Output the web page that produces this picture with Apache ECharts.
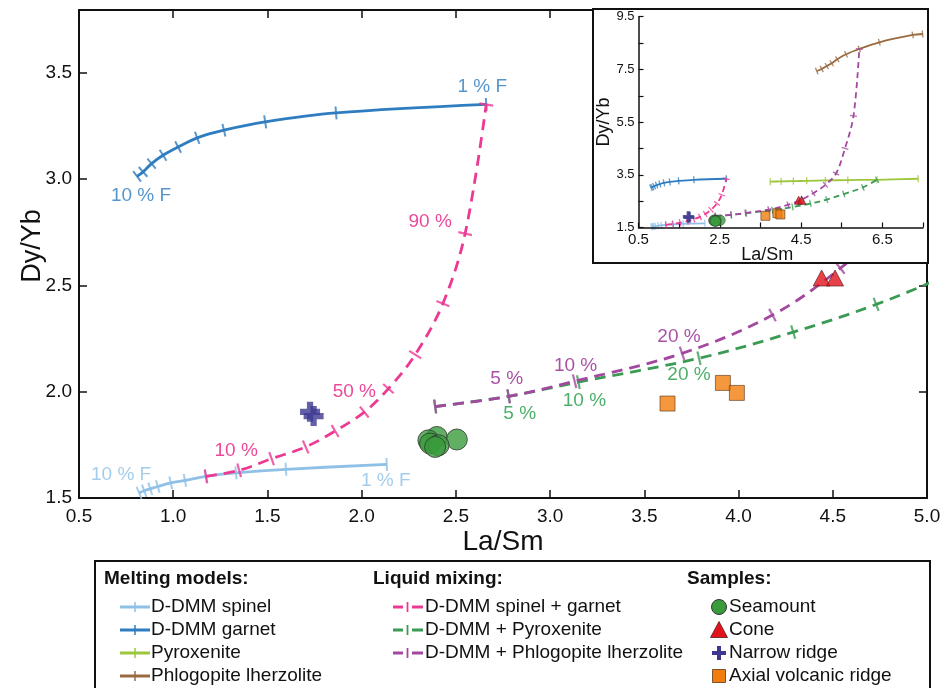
<!DOCTYPE html>
<html>
<head>
<meta charset="utf-8">
<script src="https://cdn.jsdelivr.net/npm/echarts@6/dist/echarts.min.js"></script>
<style>
  html, body { margin: 0; padding: 0; background: #ffffff; }
  #chart { width: 950px; height: 688px; }
</style>
</head>
<body>
<div id="chart"></div>
<script>
// ---- Melting models (La/Sm, Dy/Yb), one point per melt-fraction step ----
const spinelX = [0.819, 0.846, 0.878, 0.918, 0.987, 1.062, 1.173, 1.333, 1.598, 2.133];
const spinelY = [1.524, 1.534, 1.543, 1.554, 1.571, 1.583, 1.602, 1.618, 1.635, 1.658];
const garnetX = [0.808, 0.840, 0.885, 0.946, 1.026, 1.127, 1.269, 1.488, 1.864, 2.661];
const garnetY = [3.012, 3.033, 3.072, 3.111, 3.150, 3.193, 3.229, 3.268, 3.310, 3.350];
const pyroxeniteX = [3.74, 4.01, 4.31, 4.64, 5.10, 5.65, 6.37, 7.38];
const pyroxeniteY = [3.24, 3.25, 3.26, 3.27, 3.285, 3.30, 3.31, 3.35];
const phlogopiteX = [4.885, 5.008, 5.131, 5.254, 5.392, 5.606, 5.933, 6.425, 7.247, 7.49];
const phlogopiteY = [7.439, 7.515, 7.629, 7.732, 7.883, 8.073, 8.274, 8.529, 8.806, 8.843];

// ---- Liquid mixing curves, one point per mixing proportion ----
const mixSpGtPct = [0, 10, 20, 30, 40, 50, 60, 70, 80, 90, 100];
const mixSpGtX = [1.174, 1.350, 1.522, 1.703, 1.859, 2.014, 2.142, 2.284, 2.431, 2.549, 2.661];
const mixSpGtY = [1.602, 1.630, 1.685, 1.740, 1.815, 1.904, 2.014, 2.174, 2.414, 2.743, 3.350];
const mixPxPct = [0, 5, 10, 20, 30, 40, 50, 60, 80, 100];
const mixPxX = [2.39, 2.78, 3.15, 3.79, 4.29, 4.73, 5.13, 5.55, 6.02, 6.37];
const mixPxY = [1.93, 1.978, 2.045, 2.157, 2.28, 2.41, 2.56, 2.77, 3.02, 3.31];
const mixPhlPct = [0, 5, 10, 20, 30, 40, 50, 60, 70, 80, 90, 100];
const mixPhlX = [2.39, 2.78, 3.13, 3.70, 4.18, 4.54, 4.80, 5.10, 5.36, 5.58, 5.79, 5.933];
const mixPhlY = [1.93, 1.978, 2.049, 2.18, 2.36, 2.58, 2.80, 3.12, 3.55, 4.50, 5.74, 8.274];

// ---- Samples ----
const seamountX = [2.399, 2.505, 2.354, 2.363, 2.408, 2.390];
const seamountY = [1.787, 1.775, 1.771, 1.756, 1.748, 1.740];
const coneX = [4.441, 4.512];
const coneY = [2.534, 2.534];
const narrowRidgeX = [1.726, 1.745];
const narrowRidgeY = [1.905, 1.885];
const axialRidgeX = [3.623, 3.917, 3.991];
const axialRidgeY = [1.944, 2.041, 1.994];

// ---- Axis ticks ----
const mainXTicks = [0.5, 1.0, 1.5, 2.0, 2.5, 3.0, 3.5, 4.0, 4.5, 5.0];
const mainYTicks = [1.5, 2.0, 2.5, 3.0, 3.5];
const insetXTicks = [0.5, 2.5, 4.5, 6.5];
const insetYTicks = [1.5, 3.5, 5.5, 7.5, 9.5];

// ---- Legend texts ----
const meltingTitle = 'Melting models:';
const meltingNames = ['D-DMM spinel', 'D-DMM garnet', 'Pyroxenite', 'Phlogopite lherzolite'];
const mixingTitle = 'Liquid mixing:';
const mixingNames = ['D-DMM spinel + garnet', 'D-DMM + Pyroxenite', 'D-DMM + Phlogopite lherzolite'];
const samplesTitle = 'Samples:';
const sampleNames = ['Seamount', 'Cone', 'Narrow ridge', 'Axial volcanic ridge'];

const FONT = '"Liberation Sans", Arial, Helvetica, sans-serif';
const COL = {
  spinel: '#8fc1e7', garnet: '#2f7dc1', pyx: '#9dc63d', phl: '#9a6a40',
  pink: '#ec3a93', green: '#3b9b55', purple: '#a3489f',
  pinkText: '#e8197f', greenText: '#1f9a44', purpleText: '#93278f',
  garnetText: '#2b7bbf', spinelText: '#8dc0e6',
  seamount: '#3a9b3c', cone: '#e1131c', narrow: '#3c3890', axial: '#f27d0c'
};
const PLUS = 'path://M5.5,0H10.5V5.5H16V10.5H10.5V16H5.5V10.5H0V5.5H5.5Z';

const chart = echarts.init(document.getElementById('chart'), null, { renderer: 'canvas' });

function pairs(xs, ys) { return xs.map((x, i) => [x, ys[i]]); }
// grid 0 uses axes 0 (bottom/left), grid 1 (inset) uses axes 2
function ax(g) { return g === 0 ? 0 : 2; }

// pixel tangent angle at point i, used to turn each tick across its curve
function tangentDeg(g, xs, ys, i) {
  const a = Math.max(i - 1, 0), b = Math.min(i + 1, xs.length - 1);
  const f = { xAxisIndex: ax(g), yAxisIndex: ax(g) };
  const p = chart.convertToPixel(f, [xs[a], ys[a]]);
  const q = chart.convertToPixel(f, [xs[b], ys[b]]);
  if (!p || !q) return 0;
  return Math.atan2(-(q[1] - p[1]), q[0] - p[0]) * 180 / Math.PI;
}

function curve(g, xs, ys, color, o, withAngles) {
  const main = g === 0;
  const zl = main ? 0 : 1;
  const lineW = main ? 2.8 : 1.8;
  const dash = o.dashed ? (main ? [11, 7] : [6, 4]) : 'solid';
  const tick = main ? (o.dashed ? [2.2, 14] : [2, 13]) : [1.3, 7];
  return [
    {
      type: 'line', xAxisIndex: ax(g), yAxisIndex: ax(g), zlevel: zl, z: o.z,
      data: pairs(xs, ys), smooth: 0.35, showSymbol: false, silent: true,
      lineStyle: { color: color, width: lineW, type: dash, cap: 'butt' }
    },
    {
      type: 'scatter', xAxisIndex: ax(g), yAxisIndex: ax(g), zlevel: zl, z: o.z,
      symbol: 'rect', symbolSize: tick, silent: true,
      itemStyle: { color: color },
      data: xs.map((x, i) => ({ value: [x, ys[i]], symbolRotate: withAngles ? tangentDeg(g, xs, ys, i) : 0 }))
    }
  ];
}

function samples(g) {
  const main = g === 0;
  const zl = main ? 0 : 1;
  const z = 8;
  const s = main ? 1 : 0.5;
  const base = { type: 'scatter', xAxisIndex: ax(g), yAxisIndex: ax(g), zlevel: zl, z: z, silent: true };
  return [
    Object.assign({}, base, { symbol: 'circle', symbolSize: 21 * s,
      itemStyle: { color: COL.seamount, borderColor: '#333', borderWidth: main ? 1 : 0.6 }, data: pairs(seamountX, seamountY) }),
    Object.assign({}, base, { symbol: 'triangle', symbolSize: [17 * s, 16 * s],
      itemStyle: { color: COL.cone, borderColor: '#5a1a1a', borderWidth: 0.8 }, data: pairs(coneX, coneY) }),
    Object.assign({}, base, { symbol: PLUS, symbolSize: main ? 20 : 11,
      itemStyle: { color: COL.narrow }, data: pairs(narrowRidgeX, narrowRidgeY) }),
    Object.assign({}, base, { symbol: 'rect', symbolSize: main ? 15 : 9,
      itemStyle: { color: COL.axial, borderColor: '#5a3a1a', borderWidth: 0.8 }, data: pairs(axialRidgeX, axialRidgeY) })
  ];
}

// text labels placed beside chosen curve points
function curveLabels() {
  const items = [
    { xs: garnetX, ys: garnetY, i: 0, text: '10 % F', color: COL.garnetText, off: [4, 19] },
    { xs: garnetX, ys: garnetY, i: 9, text: '1 % F', color: COL.garnetText, off: [-4, -18] },
    { xs: spinelX, ys: spinelY, i: 0, text: '10 % F', color: COL.spinelText, off: [-18, -18] },
    { xs: spinelX, ys: spinelY, i: 9, text: '1 % F', color: COL.spinelText, off: [-1, 16] },
    { xs: mixSpGtX, ys: mixSpGtY, i: mixSpGtPct.indexOf(10), text: '10 %', color: COL.pinkText, off: [-3, -20] },
    { xs: mixSpGtX, ys: mixSpGtY, i: mixSpGtPct.indexOf(50), text: '50 %', color: COL.pinkText, off: [-10, -20] },
    { xs: mixSpGtX, ys: mixSpGtY, i: mixSpGtPct.indexOf(90), text: '90 %', color: COL.pinkText, off: [-35, -12] },
    { xs: mixPhlX, ys: mixPhlY, i: mixPhlPct.indexOf(5), text: '5 %', color: COL.purpleText, off: [-2, -18] },
    { xs: mixPhlX, ys: mixPhlY, i: mixPhlPct.indexOf(10), text: '10 %', color: COL.purpleText, off: [1, -15] },
    { xs: mixPhlX, ys: mixPhlY, i: mixPhlPct.indexOf(20), text: '20 %', color: COL.purpleText, off: [-3, -17] },
    { xs: mixPxX, ys: mixPxY, i: mixPxPct.indexOf(5), text: '5 %', color: COL.greenText, off: [11, 17] },
    { xs: mixPxX, ys: mixPxY, i: mixPxPct.indexOf(10), text: '10 %', color: COL.greenText, off: [6, 19] },
    { xs: mixPxX, ys: mixPxY, i: mixPxPct.indexOf(20), text: '20 %', color: COL.greenText, off: [-10, 17] }
  ];
  return {
    type: 'scatter', xAxisIndex: 0, yAxisIndex: 0, zlevel: 0, z: 9, silent: true,
    symbolSize: 1, itemStyle: { color: 'rgba(0,0,0,0)' },
    data: items.map(t => ({
      value: [t.xs[t.i], t.ys[t.i]],
      label: { show: true, position: 'inside', formatter: t.text, offset: t.off,
               color: t.color, fontSize: 19, fontFamily: FONT }
    }))
  };
}

function allSeries(withAngles) {
  const out = [];
  [0, 1].forEach(g => {
    out.push(...curve(g, spinelX, spinelY, COL.spinel, { z: 2 }, withAngles));
    out.push(...curve(g, garnetX, garnetY, COL.garnet, { z: 2 }, withAngles));
    out.push(...curve(g, pyroxeniteX, pyroxeniteY, COL.pyx, { z: 2 }, withAngles));
    if (g === 1) out.push(...curve(g, phlogopiteX, phlogopiteY, COL.phl, { z: 2 }, withAngles));
    out.push(...curve(g, mixSpGtX, mixSpGtY, COL.pink, { z: 3, dashed: true }, withAngles));
    out.push(...curve(g, mixPxX, mixPxY, COL.green, { z: 4, dashed: true }, withAngles));
    out.push(...curve(g, mixPhlX, mixPhlY, COL.purple, { z: 5, dashed: true }, withAngles));
    out.push(...samples(g));
  });
  out.push(curveLabels());
  return out;
}

function isTick(v, list) { return list.some(t => Math.abs(t - v) < 1e-6); }

function axisCommon(main) {
  return {
    type: 'value',
    nameMoveOverlap: false,
    axisLine: { show: true, onZero: false, lineStyle: { color: '#111', width: main ? 2 : 1.5 } },
    axisTick: { show: true, inside: true, length: main ? 8 : 5, lineStyle: { color: '#111', width: main ? 1.5 : 1.2 } },
    splitLine: { show: false },
    z: main ? 1 : 3
  };
}

function legendGraphics() {
  const els = [];
  const T = (x, y, text, bold) => ({
    type: 'text', x: x, y: y,
    style: { text: text, fill: '#111', font: (bold ? 'bold ' : '') + '19px ' + FONT, textVerticalAlign: 'middle' }
  });
  els.push({ type: 'rect', shape: { x: 95, y: 561, width: 835, height: 140 },
             style: { fill: '#fff', stroke: '#111', lineWidth: 2 } });
  const rows = [607, 630, 653, 676];
  els.push(T(104, 579, meltingTitle, true));
  els.push(T(373, 579, mixingTitle, true));
  els.push(T(687, 579, samplesTitle, true));
  const meltCols = [COL.spinel, COL.garnet, COL.pyx, COL.phl];
  meltingNames.forEach((n, i) => {
    const y = rows[i];
    els.push({ type: 'line', shape: { x1: 120, y1: y, x2: 150, y2: y }, style: { stroke: meltCols[i], lineWidth: 3 } });
    els.push({ type: 'line', shape: { x1: 135, y1: y - 5, x2: 135, y2: y + 5 }, style: { stroke: meltCols[i], lineWidth: 1.5 } });
    els.push(T(151, y, n, false));
  });
  const mixCols = [COL.pink, COL.green, COL.purple];
  mixingNames.forEach((n, i) => {
    const y = rows[i];
    els.push({ type: 'line', shape: { x1: 393, y1: y, x2: 403, y2: y }, style: { stroke: mixCols[i], lineWidth: 3 } });
    els.push({ type: 'line', shape: { x1: 407.5, y1: y - 5, x2: 407.5, y2: y + 5 }, style: { stroke: mixCols[i], lineWidth: 1.8 } });
    els.push({ type: 'line', shape: { x1: 412, y1: y, x2: 423, y2: y }, style: { stroke: mixCols[i], lineWidth: 3 } });
    els.push(T(425, y, n, false));
  });
  // sample markers
  const mx = 719;
  els.push({ type: 'circle', shape: { cx: mx, cy: rows[0], r: 7.5 }, style: { fill: COL.seamount, stroke: '#333', lineWidth: 1 } });
  els.push({ type: 'polygon', shape: { points: [[mx, rows[1] - 8.5], [mx - 8.5, rows[1] + 7.5], [mx + 8.5, rows[1] + 7.5]] },
             style: { fill: COL.cone, stroke: '#5a1a1a', lineWidth: 0.8 } });
  els.push({ type: 'polygon', shape: { points: [[mx - 2, rows[2] - 7], [mx + 2, rows[2] - 7], [mx + 2, rows[2] - 2], [mx + 7, rows[2] - 2],
             [mx + 7, rows[2] + 2], [mx + 2, rows[2] + 2], [mx + 2, rows[2] + 7], [mx - 2, rows[2] + 7], [mx - 2, rows[2] + 2], [mx - 7, rows[2] + 2],
             [mx - 7, rows[2] - 2], [mx - 2, rows[2] - 2]] }, style: { fill: COL.narrow } });
  els.push({ type: 'rect', shape: { x: mx - 6.5, y: rows[3] - 6.5, width: 13, height: 13 },
             style: { fill: COL.axial, stroke: '#5a3a1a', lineWidth: 0.8 } });
  sampleNames.forEach((n, i) => els.push(T(729, rows[i], n, false)));
  return els;
}

function buildOption(withAngles) {
  return {
    animation: false,
    backgroundColor: '#ffffff',
    textStyle: { fontFamily: FONT },
    grid: [
      { left: 79, right: 23, top: 10, bottom: 190, outerBoundsMode: 'none' },
      { left: 638.5, right: 27, top: 16.7, bottom: 460.5, outerBoundsMode: 'none' }
    ],
    xAxis: [
      Object.assign(axisCommon(true), {
        gridIndex: 0, position: 'bottom', min: 0.5, max: 5.0, interval: 0.5,
        axisLabel: { show: true, fontSize: 19, color: '#111', margin: 9, fontFamily: FONT,
                     formatter: v => isTick(v, mainXTicks) ? v.toFixed(1) : '' },
        name: 'La/Sm', nameLocation: 'middle', nameGap: 30,
        nameTextStyle: { fontSize: 28, color: '#111', fontFamily: FONT }
      }),
      Object.assign(axisCommon(true), {
        gridIndex: 0, position: 'top', min: 0.5, max: 5.0, interval: 0.5, axisLabel: { show: false }
      }),
      Object.assign(axisCommon(false), {
        gridIndex: 1, position: 'bottom', min: 0.5, max: 7.5, interval: 1, zlevel: 1,
        axisLabel: { show: true, fontSize: 15, color: '#111', margin: 5, fontFamily: FONT,
                     formatter: v => isTick(v, insetXTicks) ? v.toFixed(1) : '' },
        name: 'La/Sm', nameLocation: 'middle', nameGap: 19,
        nameTextStyle: { fontSize: 18, color: '#111', fontFamily: FONT, padding: [0, 27, 0, 0] }
      })
    ],
    yAxis: [
      Object.assign(axisCommon(true), {
        gridIndex: 0, position: 'left', min: 1.5, max: 3.794, interval: 0.5,
        axisLabel: { show: true, fontSize: 19, color: '#111', margin: 7, fontFamily: FONT,
                     formatter: v => isTick(v, mainYTicks) ? v.toFixed(1) : '' },
        name: 'Dy/Yb', nameLocation: 'middle', nameGap: 33, nameRotate: 90,
        nameTextStyle: { fontSize: 27, color: '#111', fontFamily: FONT, padding: [0, 0, 0, 16] }
      }),
      Object.assign(axisCommon(true), {
        gridIndex: 0, position: 'right', min: 1.5, max: 3.794, interval: 0.5, axisLabel: { show: false }
      }),
      Object.assign(axisCommon(false), {
        gridIndex: 1, position: 'left', min: 1.5, max: 9.5, interval: 1, zlevel: 1,
        axisLabel: { show: true, fontSize: 13, color: '#111', margin: 4, fontFamily: FONT,
                     formatter: v => isTick(v, insetYTicks) ? v.toFixed(1) : '' },
        name: 'Dy/Yb', nameLocation: 'middle', nameGap: 25, nameRotate: 90,
        nameTextStyle: { fontSize: 18, color: '#111', fontFamily: FONT }
      })
    ],
    graphic: [
      { type: 'rect', zlevel: 1, z: 0, silent: true, shape: { x: 593, y: 9, width: 335, height: 254 },
        style: { fill: '#ffffff', stroke: '#111', lineWidth: 2 } },
      { type: 'group', zlevel: 0, z: 10, silent: true, children: legendGraphics() }
    ],
    series: allSeries(withAngles)
  };
}

chart.setOption(buildOption(false));
chart.setOption(buildOption(true), true);
</script>
</body>
</html>
